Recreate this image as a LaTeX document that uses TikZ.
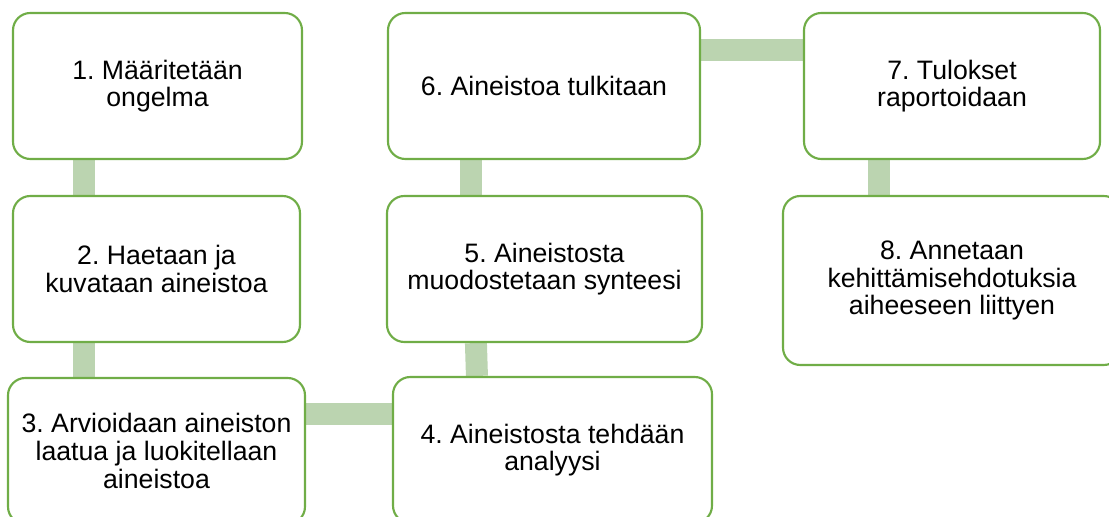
\documentclass[tikz,border=0pt]{standalone}
\usepackage{fontspec}
\setmainfont{Liberation Sans}
\usepackage{tikz}
\usetikzlibrary{calc,backgrounds}
\definecolor{boxgreen}{RGB}{112,173,71}
\definecolor{linkgreen}{RGB}{187,212,176}
\frenchspacing

\begin{document}
\begin{tikzpicture}[x=0.75pt,y=0.75pt,
 box/.style={draw=boxgreen,line width=1.6pt,rounded corners=13pt,fill=white,align=center,
  font=\fontsize{20pt}{20.7pt}\selectfont,inner sep=0pt,minimum height=109.5pt},
 link/.style={draw=linkgreen,line width=16.5pt}]
 \useasboundingbox (0,0) rectangle (1109,517);
 \node[box,minimum width=216.75pt] (b1) at (157.5,431) {1. Määritetään\\ongelma};
 \node[box,minimum width=215.25pt] (b2) at (156.5,248) {2. Haetaan ja\\kuvataan aineistoa};
 \node[box,minimum width=222.75pt] (b3) at (156.5,66) {3. Arvioidaan aineiston\\laatua ja luokitellaan\\aineistoa};
 \node[box,minimum width=239.25pt] (b4) at (552.5,67) {4. Aineistosta tehdään\\analyysi};
 \node[box,minimum width=236.25pt] (b5) at (544.5,248) {5. Aineistosta\\muodostetaan synteesi};
 \node[box,minimum width=234pt] (b6) at (544,431) {6. Aineistoa tulkitaan};
 \node[box,minimum width=222pt] (b7) at (952,431) {7. Tulokset\\raportoidaan};
 \node[box,minimum width=253.5pt,minimum height=126.75pt] (b8) at (952,236.5) {8. Annetaan\\kehittämisehdotuksia\\aiheeseen liittyen};
 \begin{scope}[on background layer]
  \coordinate (c12) at ($(b1.south west)+(72,0)$);
  \coordinate (c23) at ($(b2.south west)+(72,0)$);
  \coordinate (c34) at ($(b3.east)+(0,37)$);
  \coordinate (c65) at ($(b6.south west)+(84.5,0)$);
  \coordinate (c67) at ($(b6.east)+(0,36)$);
  \coordinate (c78) at ($(b7.south west)+(76,0)$);
  \draw[link] (c12) -- (c12 |- b2.north);
  \draw[link] (c23) -- (c23 |- b3.north);
  \draw[link] (c34) -- (c34 -| b4.west);
  \draw[link] ($(b5.south west)+(90,0)$) -- ($(b4.north west)+(85,0)$);
  \draw[link] (c65) -- (c65 |- b5.north);
  \draw[link] (c67) -- (c67 -| b7.west);
  \draw[link] (c78) -- (c78 |- b8.north);
 \end{scope}
\end{tikzpicture}
\end{document}
